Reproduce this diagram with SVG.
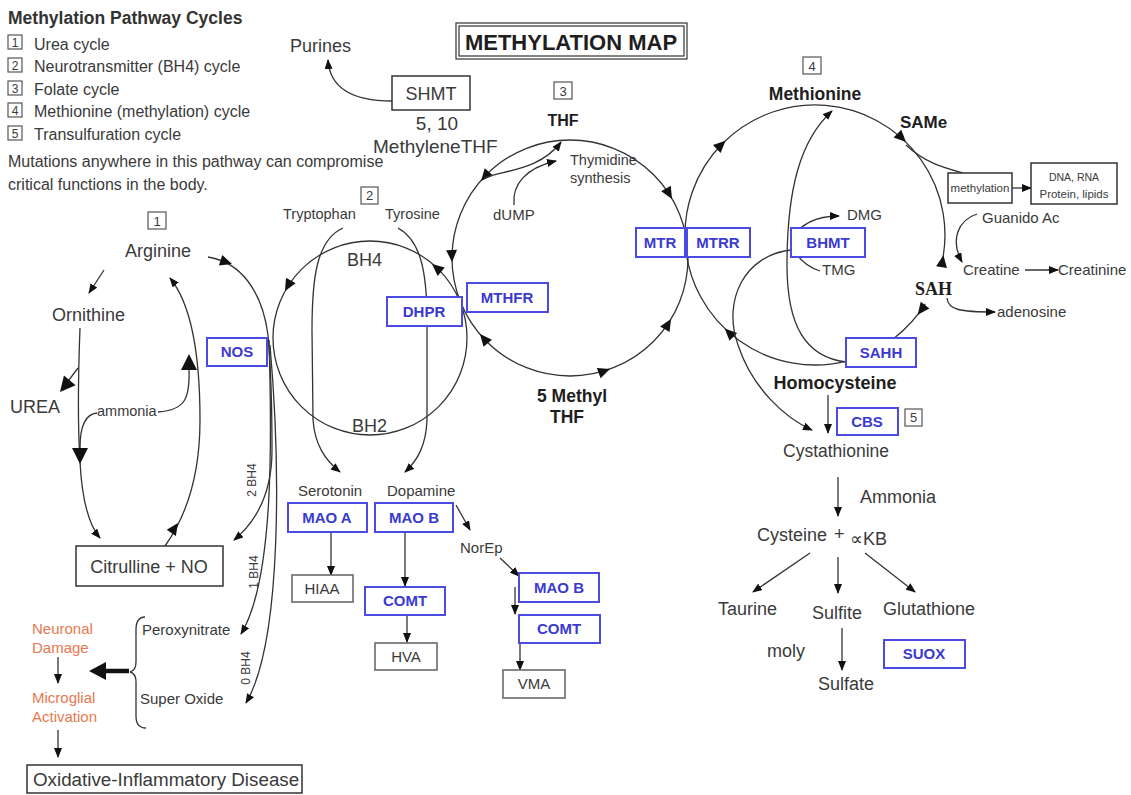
<svg xmlns="http://www.w3.org/2000/svg" width="1131" height="795" viewBox="0 0 1131 795">
<defs>
<style>
text{font-family:'Liberation Sans',Arial,Helvetica,sans-serif;fill:#3a3a3a}
.b{font-weight:bold;fill:#1e1e1e}
.bl{font-weight:bold;fill:#3a3ad0;font-size:15px;text-anchor:middle}
.bx{fill:#fff;stroke:#4b4be4;stroke-width:2}
.gb{fill:#fff;stroke:#6a6a6a;stroke-width:1.6}
.kb{fill:#fff;stroke:#333;stroke-width:1.5}
.nb{fill:#fff;stroke:#555;stroke-width:1.2}
.ln{fill:none;stroke:#333;stroke-width:1.3}
.ar{marker-end:url(#m)}
.or{fill:#e8784e;font-size:15px}
.m{text-anchor:middle}
</style>
<marker id="m" viewBox="0 0 10 8" refX="9" refY="4" markerWidth="10" markerHeight="8" markerUnits="userSpaceOnUse" orient="auto"><path d="M0,0 L10,4 L0,8 z" fill="#111"/></marker>
<path id="ah" d="M0,0 L-12,-5.5 L-12,5.5 Z" fill="#111"/>
<path id="ahb" d="M0,0 L-16,-8 L-16,8 Z" fill="#111"/>
</defs>
<rect width="1131" height="795" fill="#fff"/>

<g id="legend">
<text x="8" y="24" class="b" font-size="17.5" style="fill:#333">Methylation Pathway Cycles</text>
<rect x="8" y="35" width="14" height="14" class="nb"/><text x="15" y="47" class="m" font-size="12">1</text>
<text x="34" y="50" font-size="16">Urea cycle</text>
<rect x="8" y="58" width="14" height="14" class="nb"/><text x="15" y="70" class="m" font-size="12">2</text>
<text x="34" y="72" font-size="16">Neurotransmitter (BH4) cycle</text>
<rect x="8" y="81" width="14" height="14" class="nb"/><text x="15" y="93" class="m" font-size="12">3</text>
<text x="34" y="95" font-size="16">Folate cycle</text>
<rect x="8" y="103" width="14" height="14" class="nb"/><text x="15" y="115" class="m" font-size="12">4</text>
<text x="34" y="117" font-size="16">Methionine (methylation) cycle</text>
<rect x="8" y="126" width="14" height="14" class="nb"/><text x="15" y="138" class="m" font-size="12">5</text>
<text x="34" y="140" font-size="16">Transulfuration cycle</text>
<text x="8" y="167" font-size="16">Mutations anywhere in this pathway can compromise</text>
<text x="8" y="190" font-size="16">critical functions in the body.</text>
</g>

<g id="title">
<rect x="456" y="23" width="231" height="36" fill="#fff" stroke="#333" stroke-width="1.2"/>
<rect x="459" y="26" width="225" height="30" fill="none" stroke="#333" stroke-width="1.2"/>
<text x="571" y="50" class="b m" font-size="22">METHYLATION MAP</text>
</g>

<g id="connectors">
<path class="ln ar" d="M392,101 C355,101 330,90 328,60"/>
<circle cx="570" cy="258" r="118" class="ln"/>
<use href="#ah" transform="translate(672,199) rotate(60)"/>
<use href="#ah" transform="translate(481,181) rotate(131)"/>
<use href="#ah" transform="translate(452,262) rotate(88)"/>
<use href="#ah" transform="translate(480,334) rotate(-130)"/>
<use href="#ah" transform="translate(610,369) rotate(-20)"/>
<use href="#ah" transform="translate(671,319) rotate(-59)"/>
<path class="ln ar" d="M484,178 C505,170 540,170 561,142"/>
<path class="ln ar" d="M514,205 C512,185 525,168 556,161"/>
<circle cx="370" cy="338" r="97" class="ln"/>
<use href="#ah" transform="translate(432,264) rotate(-140)"/>
<use href="#ah" transform="translate(285,291) rotate(119)"/>
<path class="ln ar" d="M343,228 C316,240 312,280 312,330 L313,420 C315,445 325,460 340,472"/>
<path class="ln ar" d="M398,228 C420,240 427,270 427,320 L427,420 C426,445 418,460 405,472"/>
<path class="ln" d="M846.4,361.1 A130,130 0 1 1 941.1,266.4"/>
<path class="ln" d="M925.2,303.9 A130,130 0 0 1 895,337.4"/>
<use href="#ah" transform="translate(725.5,140.7) rotate(-43.5)"/>
<use href="#ah" transform="translate(906,142) rotate(44.4)"/>
<use href="#ah" transform="translate(943.4,255.3) rotate(-81)"/>
<use href="#ah" transform="translate(917.7,314.7) rotate(127.8)"/>
<use href="#ah" transform="translate(724.7,328.5) rotate(-136)"/>
<path class="ln ar" d="M846,362 C805,357 787,325 787,265 C787,190 800,140 832,111"/>
<path class="ln ar" d="M791,250 C745,255 722,300 738,345 C752,388 785,418 812,430"/>
<path class="ln ar" d="M791,240 C800,224 815,216 839,216"/>
<path class="ln" d="M791,246 C800,262 810,268 820,271"/>
<path class="ln" d="M906,145 C925,163 945,168 963,173"/>
<path class="ln ar" d="M1012,188 L1031,188"/>
<path class="ln ar" d="M977,214 C958,220 950,240 962,262"/>
<path class="ln ar" d="M1025,270 L1058,270"/>
<path class="ln ar" d="M947,298 C948,310 960,312 995,312"/>
<path class="ln ar" d="M828,395 L828,433" stroke-width="2.2"/>
<path class="ln ar" d="M838,477 L838,516"/>
<path class="ln ar" d="M810,553 L753,592"/>
<path class="ln ar" d="M838,557 L838,593"/>
<path class="ln ar" d="M865,553 L915,592"/>
<path class="ln ar" d="M842,628 L842,670"/>
<path class="ln ar" d="M104,270 L89,293"/>
<path class="ln ar" d="M80,328 C78,380 78,430 80,462 C82,500 88,524 100,538"/>
<use href="#ahb" transform="translate(80,464) rotate(90)"/>
<path class="ln" d="M78,368 L66,384"/>
<use href="#ahb" transform="translate(60,392) rotate(130) scale(0.95)"/>
<path class="ln" d="M189,368 C190,398 186,410 158,412"/>
<path class="ln" d="M97,413 C86,414 80,424 80,448"/>
<use href="#ahb" transform="translate(189,354) rotate(-90)"/>
<path class="ln ar" d="M165,546 C185,518 200,480 200,420 C200,345 188,300 170,278"/>
<use href="#ah" transform="translate(178,523) rotate(-56)"/>
<path class="ln ar" d="M208,257 C240,262 262,290 268,335 C272,380 272,420 272,450 C272,492 258,520 234,540"/>
<use href="#ah" transform="translate(232,264) rotate(18)"/>
<path class="ln ar" d="M269,340 C272,440 274,580 241,634"/>
<path class="ln ar" d="M270,345 C280,460 283,640 246,703"/>
<path class="ln" d="M145,617 C139,617 136,621 136,630 L136,662 C136,668 134,671 130,672 C134,673 136,676 136,682 L136,716 C136,724 139,728 146,728" stroke="#555"/>
<path d="M129,671 L102,671" stroke="#111" stroke-width="4.5"/>
<path d="M89,671 L106,662 L106,680 Z" fill="#111"/>
<path class="ln ar" d="M58,657 L58,683"/>
<path class="ln ar" d="M58,730 L58,757"/>
<path class="ln ar" d="M331,532 L331,575"/>
<path class="ln ar" d="M405,532 L405,586"/>
<path class="ln ar" d="M407,615 L407,642"/>
<path class="ln ar" d="M456,505 L470,530"/>
<path class="ln ar" d="M500,558 L519,576"/>
<path class="ln ar" d="M515,587 L515,614"/>
<path class="ln ar" d="M520,643 L520,670"/>
</g>

<g id="n-purines"><text x="290" y="52" font-size="18">Purines</text></g>
<g id="n-shmt"><rect x="392" y="76" width="78" height="34" class="kb"/><text x="431" y="100" class="m" font-size="18">SHMT</text></g>
<g id="n-methylenethf"><text x="437" y="130" class="m" font-size="19">5, 10</text><text x="373" y="153" font-size="19">MethyleneTHF</text></g>
<g id="n-thf"><rect x="554" y="82" width="18" height="17" class="nb"/><text x="563" y="96" class="m" font-size="13">3</text><text x="563" y="126" class="b m" font-size="16">THF</text></g>
<g id="n-thymidine"><text x="570" y="165" font-size="14.5">Thymidine</text><text x="570" y="183" font-size="14.5">synthesis</text></g>
<g id="n-dump"><text x="493" y="220" font-size="15">dUMP</text></g>
<g id="n-5methylthf"><text x="537" y="402" class="b" font-size="17.5">5 Methyl</text><text x="567" y="423" class="b m" font-size="17.5">THF</text></g>
<g id="n-mthfr"><rect x="467" y="283" width="81" height="29" class="bx"/><text x="507" y="303" class="bl">MTHFR</text></g>
<g id="n-dhpr"><rect x="387" y="297" width="75" height="29" class="bx"/><text x="424" y="317" class="bl">DHPR</text></g>
<g id="n-mtr"><rect x="636" y="228" width="49" height="29" class="bx"/><text x="660" y="248" class="bl">MTR</text></g>
<g id="n-mtrr"><rect x="687" y="228" width="63" height="29" class="bx"/><text x="718" y="248" class="bl">MTRR</text></g>

<g id="n-bh4cycle">
<rect x="361" y="187" width="17" height="17" class="nb"/><text x="369.5" y="200" class="m" font-size="13">2</text>
<text x="283" y="219" font-size="14.5">Tryptophan</text>
<text x="385" y="219" font-size="14.5">Tyrosine</text>
<text x="347" y="266" font-size="18">BH4</text>
<text x="352" y="432" font-size="18">BH2</text>
</g>

<g id="n-urea">
<rect x="148" y="212" width="18" height="17" class="nb"/><text x="157" y="226" class="m" font-size="13">1</text>
<text x="125" y="257" font-size="18">Arginine</text>
<text x="52" y="321" font-size="18">Ornithine</text>
<text x="10" y="413" font-size="18">UREA</text>
<text x="97" y="416" font-size="14.5">ammonia</text>
</g>
<g id="n-nos"><rect x="207" y="338" width="60" height="28" class="bx"/><text x="237" y="357" class="bl">NOS</text></g>
<g id="n-citrulline"><rect x="76" y="546" width="147" height="40" class="kb"/><text x="149" y="573" class="m" font-size="18">Citrulline + NO</text></g>
<g id="n-bh4labels" font-size="12">
<text class="m" transform="translate(256,480) rotate(-90)">2 BH4</text>
<text class="m" transform="translate(258,572) rotate(-90)">1 BH4</text>
<text class="m" transform="translate(250,668) rotate(-90)">0 BH4</text>
</g>
<g id="n-radicals"><text x="142" y="635" font-size="15">Peroxynitrate</text><text x="140" y="704" font-size="15">Super Oxide</text></g>
<g id="n-damage"><text x="32" y="634" class="or">Neuronal</text><text x="32" y="653" class="or">Damage</text></g>
<g id="n-microglial"><text x="32" y="703" class="or">Microglial</text><text x="32" y="722" class="or">Activation</text></g>
<g id="n-oxidative"><rect x="27" y="765" width="275" height="28" class="kb"/><text x="33" y="786" font-size="18.8">Oxidative-Inflammatory Disease</text></g>

<g id="n-serotonin"><text x="298" y="496" font-size="15">Serotonin</text></g>
<g id="n-dopamine"><text x="387" y="496" font-size="15">Dopamine</text></g>
<g id="n-maoa"><rect x="288" y="503" width="79" height="29" class="bx"/><text x="327" y="523" class="bl">MAO A</text></g>
<g id="n-maob"><rect x="375" y="503" width="78" height="29" class="bx"/><text x="414" y="523" class="bl">MAO B</text></g>
<g id="n-hiaa"><rect x="292" y="575" width="61" height="27" class="gb"/><text x="322" y="594" class="m" font-size="15">HIAA</text></g>
<g id="n-comt"><rect x="365" y="587" width="80" height="28" class="bx"/><text x="405" y="606" class="bl">COMT</text></g>
<g id="n-hva"><rect x="375" y="643" width="62" height="27" class="gb"/><text x="406" y="662" class="m" font-size="15">HVA</text></g>
<g id="n-norep"><text x="460" y="553" font-size="15">NorEp</text></g>
<g id="n-maob2"><rect x="519" y="573" width="80" height="29" class="bx"/><text x="559" y="593" class="bl">MAO B</text></g>
<g id="n-comt2"><rect x="519" y="615" width="81" height="28" class="bx"/><text x="559" y="634" class="bl">COMT</text></g>
<g id="n-vma"><rect x="503" y="670" width="62" height="28" class="gb"/><text x="534" y="689" class="m" font-size="15">VMA</text></g>

<g id="n-methionine"><rect x="803" y="57" width="18" height="17" class="nb"/><text x="812" y="71" class="m" font-size="13">4</text><text x="815" y="100" class="b m" font-size="17.5">Methionine</text></g>
<g id="n-same"><text x="900" y="128" class="b" font-size="17">SAMe</text></g>
<g id="n-methylation"><rect x="948" y="173" width="64" height="30" class="kb" stroke-width="1.2"/><text x="980" y="192" class="m" font-size="11.5">methylation</text></g>
<g id="n-dna"><rect x="1031" y="163" width="86" height="41" class="kb" stroke-width="1.2"/><text x="1074" y="181" class="m" font-size="10.5">DNA, RNA</text><text x="1074" y="198" class="m" font-size="11.5">Protein, lipids</text></g>
<g id="n-bhmt"><rect x="791" y="228" width="74" height="29" class="bx"/><text x="828" y="248" class="bl">BHMT</text></g>
<g id="n-dmg"><text x="847" y="220" font-size="15">DMG</text></g>
<g id="n-tmg"><text x="822" y="275" font-size="15">TMG</text></g>
<g id="n-guanido"><text x="982" y="223" font-size="15">Guanido Ac</text></g>
<g id="n-creatine"><text x="963" y="275" font-size="15">Creatine</text></g>
<g id="n-creatinine"><text x="1058" y="275" font-size="15">Creatinine</text></g>
<g id="n-sah"><text x="915" y="295" style="font-family:'Liberation Serif','Times New Roman',serif" class="b" font-size="18">SAH</text></g>
<g id="n-adenosine"><text x="997" y="317" font-size="15">adenosine</text></g>
<g id="n-sahh"><rect x="846" y="338" width="70" height="29" class="bx"/><text x="881" y="358" class="bl">SAHH</text></g>
<g id="n-homocysteine"><text x="835" y="389" class="b m" font-size="18">Homocysteine</text></g>
<g id="n-cbs"><rect x="837" y="408" width="61" height="27" class="bx"/><text x="867" y="427" class="bl">CBS</text><rect x="905" y="409" width="17" height="17" class="nb"/><text x="913.5" y="422" class="m" font-size="13">5</text></g>
<g id="n-cystathionine"><text x="783" y="457" font-size="17.5">Cystathionine</text></g>
<g id="n-ammonia"><text x="860" y="503" font-size="18">Ammonia</text></g>
<g id="n-cysteine"><text x="757" y="541" font-size="18">Cysteine</text><text x="834" y="540" font-size="18">+</text><text x="850" y="545" font-size="18">∝KB</text></g>
<g id="n-taurine"><text x="718" y="615" font-size="18">Taurine</text></g>
<g id="n-sulfite"><text x="812" y="619" font-size="18">Sulfite</text></g>
<g id="n-glutathione"><text x="883" y="615" font-size="18">Glutathione</text></g>
<g id="n-moly"><text x="767" y="657" font-size="18">moly</text></g>
<g id="n-sulfate"><text x="818" y="690" font-size="18">Sulfate</text></g>
<g id="n-suox"><rect x="884" y="640" width="81" height="28" class="bx"/><text x="924" y="659" class="bl">SUOX</text></g>
</svg>
